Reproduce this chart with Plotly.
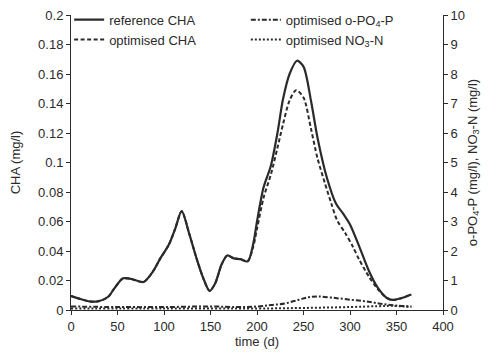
import plotly.graph_objects as go

# reference CHA (mg/l)
t_ref = [0, 10, 20, 30, 40, 47, 56, 65, 78, 88, 96, 105, 112, 119, 127, 135, 142, 149, 155, 162, 168, 175, 182, 190,
         196, 200, 207, 215, 222, 228, 235, 243, 250, 258, 265, 275, 285, 293, 300, 310, 320, 330, 340, 347, 355, 366]
cha_ref = [0.0095, 0.0075, 0.0058, 0.006, 0.009, 0.015, 0.0215, 0.021, 0.019, 0.026, 0.035, 0.044, 0.055, 0.067,
           0.052, 0.035, 0.022, 0.013, 0.018, 0.031, 0.037, 0.035, 0.0345, 0.033,
           0.045, 0.06, 0.083, 0.098, 0.12, 0.143, 0.16, 0.169, 0.165, 0.142, 0.117, 0.09, 0.072, 0.065, 0.058, 0.043,
           0.027, 0.015, 0.008, 0.0068, 0.008, 0.0105]

# optimised CHA (mg/l)
t_opt = [0, 10, 20, 30, 40, 47, 56, 65, 78, 88, 96, 105, 112, 119, 127, 135, 142, 149, 155, 162, 168, 175, 182, 190,
         196, 200, 207, 215, 222, 228, 235, 242, 250, 258, 265, 273, 280, 286, 295, 303, 310, 320, 330, 340, 347, 355, 366]
cha_opt = [0.0095, 0.0075, 0.0058, 0.006, 0.009, 0.015, 0.0215, 0.021, 0.019, 0.026, 0.035, 0.044, 0.055, 0.067,
           0.052, 0.035, 0.022, 0.013, 0.018, 0.031, 0.037, 0.035, 0.0345, 0.033,
           0.043, 0.055, 0.076, 0.092, 0.11, 0.126, 0.142, 0.149, 0.144, 0.123, 0.103, 0.086, 0.072, 0.061, 0.052,
           0.043, 0.034, 0.023, 0.014, 0.008, 0.0068, 0.008, 0.0105]

# optimised o-PO4-P (mg/l)
t_po4 = [0, 50, 100, 150, 180, 200, 215, 230, 245, 255, 265, 280, 300, 320, 335, 350, 366]
po4 = [0.12, 0.1, 0.1, 0.12, 0.1, 0.12, 0.17, 0.22, 0.35, 0.43, 0.46, 0.42, 0.35, 0.28, 0.2, 0.15, 0.12]

# optimised NO3-N (mg/l)
t_no3 = [0, 100, 200, 250, 300, 330, 345, 366]
no3 = [0.05, 0.05, 0.05, 0.07, 0.1, 0.13, 0.14, 0.1]

x_ticks = [0, 50, 100, 150, 200, 250, 300, 350, 400]
y_left_ticks = [0, 0.02, 0.04, 0.06, 0.08, 0.1, 0.12, 0.14, 0.16, 0.18, 0.2]
y_right_ticks = [0, 1, 2, 3, 4, 5, 6, 7, 8, 9, 10]

INK = "#2a2a2a"
FONT = "Liberation Sans, Arial, sans-serif"

fig = go.Figure()
fig.add_trace(go.Scatter(x=t_ref, y=cha_ref, mode="lines", name="reference CHA",
                         line=dict(color=INK, width=2.2, shape="spline", smoothing=0.8), legend="legend"))
fig.add_trace(go.Scatter(x=t_opt, y=cha_opt, mode="lines", name="optimised CHA",
                         line=dict(color=INK, width=2, dash="4px,2.5px", shape="spline", smoothing=0.8),
                         legend="legend"))
fig.add_trace(go.Scatter(x=t_po4, y=po4, mode="lines", name="optimised o-PO<sub>4</sub>-P",
                         line=dict(color=INK, width=2, dash="5px,2px,2px,2px", shape="spline"),
                         yaxis="y2", legend="legend2"))
fig.add_trace(go.Scatter(x=t_no3, y=no3, mode="lines", name="optimised NO<sub>3</sub>-N",
                         line=dict(color=INK, width=2, dash="2px,2px", shape="spline"),
                         yaxis="y2", legend="legend2"))

axis_common = dict(showgrid=False, zeroline=False, showline=True, linecolor=INK, linewidth=1,
                   ticks="outside", ticklen=4, tickcolor=INK, tickfont=dict(size=13, color=INK, family=FONT),
                   automargin=False)

fig.update_layout(
    width=490, height=356,
    margin=dict(l=71, r=47, t=15, b=46, autoexpand=False),
    paper_bgcolor="white", plot_bgcolor="white",
    font=dict(family=FONT, size=13, color=INK),
    showlegend=True,
    xaxis=dict(range=[0, 400], tickvals=x_ticks, title=dict(text="time (d)", standoff=3, font=dict(size=13)),
               **axis_common),
    yaxis=dict(range=[0, 0.2], tickvals=y_left_ticks, ticktext=[f"{v:g}" for v in y_left_ticks],
               title=dict(text="CHA (mg/l)", standoff=14, font=dict(size=13)), **axis_common),
    yaxis2=dict(range=[0, 10], tickvals=y_right_ticks, overlaying="y", side="right",
                title=dict(text="o-PO<sub>4</sub>-P (mg/l), NO<sub>3</sub>-N (mg/l)", standoff=3,
                           font=dict(size=13)),
                **axis_common),
    legend=dict(x=-0.005, y=1.035, xanchor="left", yanchor="top", bgcolor="rgba(0,0,0,0)",
                font=dict(size=13, color=INK), tracegroupgap=0, itemwidth=30),
    legend2=dict(x=0.47, y=1.035, xanchor="left", yanchor="top", bgcolor="rgba(0,0,0,0)",
                 font=dict(size=13, color=INK), tracegroupgap=0, itemwidth=30),
)

fig.write_html("out.html", config={"displayModeBar": False},
               post_script="document.body.style.margin='0';document.body.style.padding='0';")
